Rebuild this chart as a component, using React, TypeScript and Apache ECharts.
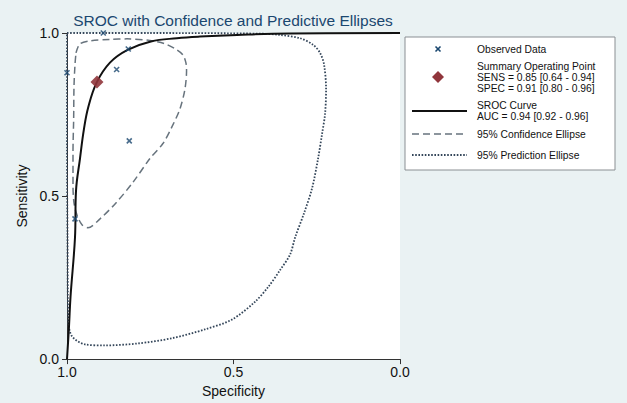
import React, { useEffect, useRef } from "react";
import * as echarts from "echarts";

// ---- Data ----
const obsSpec = [0.891, 1.0, 0.816, 0.851, 0.813, 0.976];
const obsSens = [1.0, 0.878, 0.951, 0.888, 0.669, 0.43];

const summarySpec = [0.91];
const summarySens = [0.85];

const srocSpec = [1.0, 0.994, 0.9895, 0.976, 0.973, 0.961, 0.949, 0.936, 0.911, 0.871, 0.818, 0.748, 0.67, 0.601, 0.489, 0.33, 0.0];
const srocSens = [0.0, 0.1, 0.19, 0.373, 0.515, 0.615, 0.706, 0.773, 0.848, 0.909, 0.948, 0.974, 0.984, 0.989, 0.994, 0.9985, 1.0];

const confSpec = [0.973, 0.961, 0.931, 0.871, 0.82, 0.751, 0.706, 0.673, 0.652, 0.643, 0.641, 0.646, 0.661, 0.685, 0.712, 0.751, 0.802, 0.853, 0.901, 0.937, 0.955, 0.97, 0.979, 0.982, 0.982, 0.98, 0.979, 0.976, 0.973];
const confSens = [0.939, 0.967, 0.976, 0.98, 0.982, 0.977, 0.967, 0.95, 0.933, 0.909, 0.885, 0.827, 0.767, 0.712, 0.661, 0.615, 0.542, 0.479, 0.43, 0.403, 0.412, 0.442, 0.479, 0.533, 0.636, 0.736, 0.836, 0.903, 0.939];

const predSpec = [1.0, 0.751, 0.42, 0.36, 0.3, 0.261, 0.24, 0.228, 0.222, 0.225, 0.234, 0.246, 0.264, 0.288, 0.315, 0.33, 0.36, 0.396, 0.435, 0.505, 0.586, 0.685, 0.787, 0.886, 0.946, 0.985, 0.996, 0.9985, 1.0, 1.0];
const predSens = [1.0, 1.0, 0.998, 0.994, 0.984, 0.964, 0.939, 0.903, 0.827, 0.752, 0.691, 0.615, 0.524, 0.448, 0.373, 0.321, 0.273, 0.221, 0.176, 0.121, 0.091, 0.064, 0.048, 0.042, 0.045, 0.07, 0.115, 0.373, 0.645, 1.0];

const titleText = "SROC with Confidence and Predictive Ellipses";
const xName = "Specificity";
const yName = "Sensitivity";
const legendObserved = "Observed Data";
const legendSummary = ["Summary Operating Point", "SENS = 0.85 [0.64 - 0.94]", "SPEC = 0.91 [0.80 - 0.96]"];
const legendSroc = ["SROC Curve", "AUC = 0.94 [0.92 - 0.96]"];
const legendConf = "95% Confidence Ellipse";
const legendPred = "95% Prediction Ellipse";

const zip = (a: number[], b: number[]) => a.map((v, i) => [v, b[i]]);

const FONT = "'Liberation Sans', Arial, sans-serif";
const NAVY = "#1a476f";
const MAROON = "#90353b";

export default function App() {
  const ref = useRef<HTMLDivElement>(null);

  useEffect(() => {
    if (!ref.current) return;
    const chart = echarts.init(ref.current, null, { renderer: "svg" });

    const legendText = (text: string, y: number) => ({
      type: "text",
      x: 477,
      y,
      style: { text, fill: "#111", font: `10.3px ${FONT}`, textVerticalAlign: "middle" },
    });

    const option: any = {
      animation: false,
      backgroundColor: "#eaf2f3",
      grid: {
        left: 67,
        right: 227,
        top: 33,
        bottom: 40,
        show: true,
        backgroundColor: "#ffffff",
        borderWidth: 0,
      },
      xAxis: {
        type: "value",
        min: 0,
        max: 1,
        interval: 0.5,
        inverse: true,
        name: xName,
        nameLocation: "middle",
        nameGap: 24,
        nameTextStyle: { fontFamily: FONT, fontSize: 14, color: "#111" },
        axisLine: { onZero: false, lineStyle: { color: "#333", width: 1 } },
        axisTick: { show: true, length: 5, lineStyle: { color: "#333" } },
        axisLabel: { fontFamily: FONT, fontSize: 14, color: "#111", margin: 6, formatter: (v: number) => v.toFixed(1) },
        splitLine: { show: false },
      },
      yAxis: {
        type: "value",
        min: 0,
        max: 1,
        interval: 0.5,
        name: yName,
        nameLocation: "middle",
        nameGap: 37,
        nameTextStyle: { fontFamily: FONT, fontSize: 14, color: "#111" },
        axisLine: { show: true, onZero: false, lineStyle: { color: "#333", width: 1 } },
        axisTick: { show: true, length: 5, lineStyle: { color: "#333" } },
        axisLabel: { fontFamily: FONT, fontSize: 14, color: "#111", margin: 8, formatter: (v: number) => v.toFixed(1) },
        splitLine: { show: false },
      },
      series: [
        {
          type: "line",
          data: zip(predSpec, predSens),
          showSymbol: false,
          smooth: 0.3,
          clip: false,
          lineStyle: { color: "#34465a", width: 1.8, type: [1.6, 1.6] },
          z: 2,
        },
        {
          type: "line",
          data: zip(confSpec, confSens),
          showSymbol: false,
          smooth: 0.3,
          clip: false,
          lineStyle: { color: "#67737d", width: 1.5, type: [7, 4] },
          z: 3,
        },
        {
          type: "line",
          data: zip(srocSpec, srocSens),
          showSymbol: false,
          smooth: 0.4,
          clip: false,
          lineStyle: { color: "#111", width: 2 },
          z: 4,
        },
        {
          type: "scatter",
          data: zip(obsSpec, obsSens),
          symbol: "path://M0,0L10,10M10,0L0,10",
          symbolSize: 5,
          clip: false,
          itemStyle: { color: "none", borderColor: NAVY, borderWidth: 1.6 },
          z: 5,
        },
        {
          type: "scatter",
          data: zip(summarySpec, summarySens),
          symbol: "diamond",
          symbolSize: 13,
          clip: false,
          itemStyle: { color: MAROON, opacity: 0.9 },
          z: 6,
        },
      ],
      graphic: [
        {
          type: "text",
          x: 233,
          y: 20,
          style: {
            text: titleText,
            fill: NAVY,
            font: `15.5px ${FONT}`,
            textAlign: "center",
            textVerticalAlign: "middle",
          },
        },
        {
          type: "rect",
          shape: { x: 405, y: 37, width: 210, height: 133 },
          style: { fill: "#ffffff", stroke: "#8a8f93", lineWidth: 1 },
        },
        { type: "line", shape: { x1: 435.5, y1: 46.5, x2: 440.5, y2: 51.5 }, style: { stroke: NAVY, lineWidth: 1.6 } },
        { type: "line", shape: { x1: 440.5, y1: 46.5, x2: 435.5, y2: 51.5 }, style: { stroke: NAVY, lineWidth: 1.6 } },
        legendText(legendObserved, 49),
        {
          type: "polygon",
          shape: { points: [[438, 71], [444, 77], [438, 83], [432, 77]] },
          style: { fill: MAROON },
        },
        legendText(legendSummary[0], 66),
        legendText(legendSummary[1], 77),
        legendText(legendSummary[2], 88),
        { type: "line", shape: { x1: 412, y1: 111, x2: 467, y2: 111 }, style: { stroke: "#111", lineWidth: 2 } },
        legendText(legendSroc[0], 105.5),
        legendText(legendSroc[1], 116.5),
        { type: "line", shape: { x1: 412, y1: 134, x2: 467, y2: 134 }, style: { stroke: "#67737d", lineWidth: 1.5, lineDash: [7, 4] } },
        legendText(legendConf, 134),
        { type: "line", shape: { x1: 412, y1: 155, x2: 467, y2: 155 }, style: { stroke: "#34465a", lineWidth: 1.8, lineDash: [1.6, 1.6] } },
        legendText(legendPred, 155),
      ],
    };

    chart.setOption(option);
    return () => chart.dispose();
  }, []);

  return (
    <div
      ref={ref}
      style={{ position: "fixed", left: 0, top: 0, width: 627, height: 403 }}
    />
  );
}
